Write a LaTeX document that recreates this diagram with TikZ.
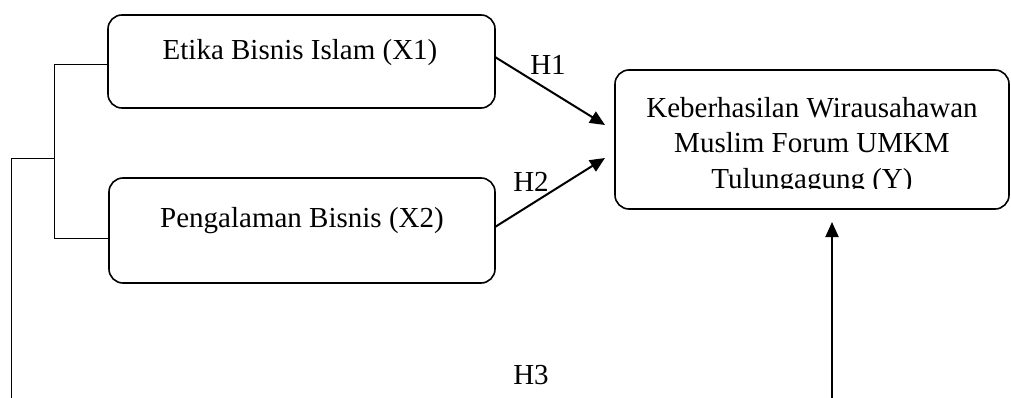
\documentclass[tikz,border=0pt]{standalone}
\usepackage{fontspec}
\setmainfont{Liberation Serif}
\usetikzlibrary{arrows.meta}
\begin{document}
\begin{tikzpicture}[x=1pt,y=-1pt,
  box/.style={draw,line width=1.6pt,rounded corners=14pt,inner sep=0pt},
  txt/.style={font=\fontsize{29}{35.5}\selectfont,inner sep=0pt,align=center},
  thin/.style={line width=0.9pt},
  arr/.style={line width=2pt,-{Triangle[length=15pt,width=13pt]}}]
\useasboundingbox (0,0) rectangle (1011,398);
% boxes
\node[box,minimum width=387pt,minimum height=93pt] (x1) at (301.5,61.5) {};
\node[txt] (x1t) at (300,53) {Etika Bisnis Islam (X1)};
\node[box,minimum width=386pt,minimum height=105pt] (x2) at (302,230.5) {};
\node[txt] (x2t) at (302,221) {Pengalaman Bisnis (X2)};
\node[box,minimum width=394pt,minimum height=139pt] (y) at (812,139.5) {};
\begin{scope}
\clip (615,72) rectangle (1011,189);
\node[txt] (yt) at (812,146) {Keberhasilan Wirausahawan\\Muslim Forum UMKM\\Tulungagung (Y)};
\end{scope}
% labels
\node[txt] (h1) at (548,65) {H1};
\node[txt] (h2) at (531,182) {H2};
\node[txt] (h3) at (531,375) {H3};
% bracket
\coordinate (b1) at (x1.west |- 0,64);
\coordinate (b2) at (x2.west |- 0,238);
\coordinate (bm) at (54,158);
\coordinate (bl) at (11,158);
\coordinate (bb) at (11,398);
\draw[thin] (b1) -- (54,64) -- (54,238) -- (b2);
\draw[thin] (bm) -- (bl) -- (bb);
% arrows
\coordinate (a1s) at (495,57);
\coordinate (a1e) at (605,125);
\coordinate (a2s) at (495,227);
\coordinate (a2e) at (605,158);
\coordinate (a3s) at (832,398);
\coordinate (a3e) at (832,222);
\draw[arr] (a1s) -- (a1e);
\draw[arr] (a2s) -- (a2e);
\draw[arr] (a3s) -- (a3e);
\end{tikzpicture}
\end{document}
